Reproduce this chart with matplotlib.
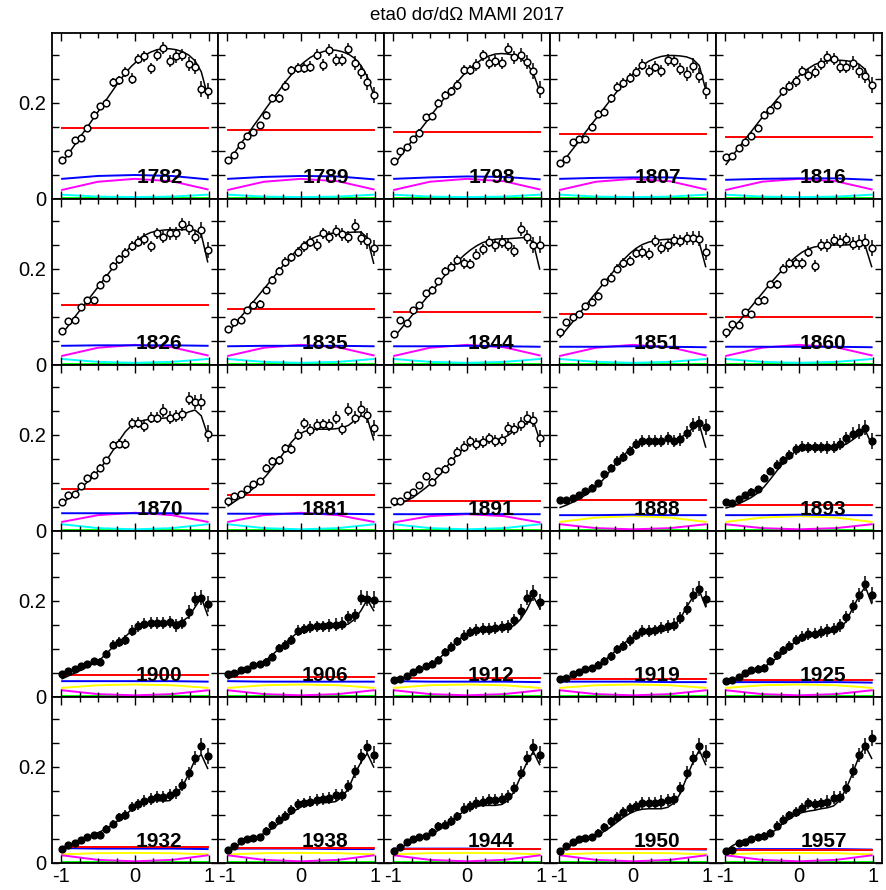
import matplotlib
matplotlib.use("Agg")
import matplotlib.pyplot as plt
from matplotlib.ticker import MultipleLocator

plt.rcParams["font.family"] = ["Liberation Sans", "DejaVu Sans"]
plt.rcParams["axes.unicode_minus"] = False

# cos(theta) bin centres
cos_theta = [-0.985, -0.900, -0.814, -0.729, -0.643, -0.558, -0.472, -0.387,
             -0.301, -0.216, -0.130, -0.045, 0.041, 0.127, 0.212, 0.298,
             0.383, 0.469, 0.554, 0.640, 0.725, 0.811, 0.896, 0.982]
# x points for the partial-wave contributions
comp_x = [-0.985, -0.5, 0.0, 0.5, 0.982]
err = [0.005, 0.005, 0.006, 0.006, 0.007, 0.007, 0.008, 0.008, 0.009, 0.010, 0.010, 0.011,
       0.011, 0.012, 0.012, 0.012, 0.013, 0.013, 0.013, 0.013, 0.014, 0.015, 0.016, 0.017]

energies = [1782, 1789, 1798, 1807, 1816,
            1826, 1835, 1844, 1851, 1860,
            1870, 1881, 1891, 1888, 1893,
            1900, 1906, 1912, 1919, 1925,
            1932, 1938, 1944, 1950, 1957]
n_open = 13  # first panels drawn with open circles

# data (d) and fit (c)
d1782 = [0.081, 0.095, 0.122, 0.128, 0.147, 0.176, 0.193, 0.200, 0.243, 0.247, 0.264, 0.251, 0.292, 0.297, 0.272, 0.299, 0.315, 0.288, 0.297, 0.300, 0.281, 0.276, 0.229, 0.225]
c1782 = [0.076, 0.094, 0.113, 0.132, 0.150, 0.169, 0.188, 0.207, 0.226, 0.245, 0.262, 0.277, 0.289, 0.299, 0.306, 0.311, 0.313, 0.313, 0.311, 0.307, 0.300, 0.288, 0.265, 0.215]
d1789 = [0.082, 0.092, 0.112, 0.131, 0.139, 0.154, 0.176, 0.211, 0.210, 0.236, 0.268, 0.273, 0.273, 0.276, 0.301, 0.279, 0.310, 0.290, 0.290, 0.312, 0.283, 0.264, 0.244, 0.217]
c1789 = [0.078, 0.096, 0.115, 0.133, 0.152, 0.170, 0.189, 0.207, 0.225, 0.243, 0.259, 0.273, 0.285, 0.295, 0.302, 0.307, 0.310, 0.310, 0.307, 0.302, 0.293, 0.278, 0.255, 0.218]
d1798 = [0.080, 0.099, 0.108, 0.124, 0.138, 0.170, 0.172, 0.200, 0.217, 0.224, 0.238, 0.269, 0.269, 0.279, 0.299, 0.283, 0.287, 0.283, 0.312, 0.295, 0.300, 0.286, 0.267, 0.228]
c1798 = [0.072, 0.089, 0.107, 0.124, 0.142, 0.159, 0.177, 0.194, 0.211, 0.228, 0.244, 0.259, 0.272, 0.283, 0.292, 0.298, 0.302, 0.303, 0.302, 0.299, 0.293, 0.282, 0.262, 0.225]
d1807 = [0.075, 0.083, 0.119, 0.125, 0.124, 0.151, 0.177, 0.181, 0.210, 0.233, 0.242, 0.252, 0.265, 0.280, 0.267, 0.276, 0.267, 0.290, 0.288, 0.271, 0.260, 0.278, 0.257, 0.226]
c1807 = [0.070, 0.087, 0.104, 0.121, 0.139, 0.156, 0.173, 0.190, 0.207, 0.224, 0.240, 0.254, 0.267, 0.278, 0.287, 0.293, 0.297, 0.299, 0.299, 0.298, 0.296, 0.291, 0.278, 0.228]
d1816 = [0.087, 0.090, 0.106, 0.118, 0.132, 0.147, 0.175, 0.185, 0.196, 0.224, 0.235, 0.245, 0.267, 0.258, 0.265, 0.281, 0.295, 0.292, 0.276, 0.276, 0.283, 0.267, 0.257, 0.238]
c1816 = [0.072, 0.090, 0.107, 0.124, 0.141, 0.158, 0.175, 0.191, 0.207, 0.222, 0.237, 0.250, 0.262, 0.272, 0.280, 0.285, 0.288, 0.289, 0.289, 0.288, 0.286, 0.281, 0.270, 0.232]

d1826 = [0.071, 0.092, 0.094, 0.121, 0.135, 0.135, 0.167, 0.181, 0.206, 0.220, 0.233, 0.248, 0.257, 0.263, 0.247, 0.274, 0.267, 0.274, 0.274, 0.293, 0.285, 0.267, 0.281, 0.240]
c1826 = [0.065, 0.082, 0.100, 0.117, 0.134, 0.151, 0.168, 0.185, 0.202, 0.219, 0.235, 0.249, 0.261, 0.270, 0.276, 0.279, 0.281, 0.282, 0.282, 0.282, 0.282, 0.281, 0.272, 0.215]
d1835 = [0.076, 0.090, 0.094, 0.115, 0.126, 0.128, 0.156, 0.178, 0.196, 0.215, 0.224, 0.235, 0.247, 0.257, 0.250, 0.274, 0.267, 0.279, 0.272, 0.267, 0.290, 0.265, 0.258, 0.244]
c1835 = [0.068, 0.084, 0.100, 0.116, 0.132, 0.148, 0.164, 0.180, 0.196, 0.212, 0.227, 0.241, 0.253, 0.262, 0.268, 0.272, 0.274, 0.275, 0.275, 0.276, 0.277, 0.277, 0.265, 0.212]
d1844 = [0.064, 0.094, 0.087, 0.115, 0.125, 0.149, 0.156, 0.174, 0.196, 0.205, 0.219, 0.212, 0.210, 0.230, 0.241, 0.257, 0.249, 0.257, 0.251, 0.238, 0.283, 0.267, 0.250, 0.251]
c1844 = [0.058, 0.074, 0.090, 0.106, 0.122, 0.138, 0.154, 0.170, 0.186, 0.201, 0.215, 0.228, 0.239, 0.248, 0.255, 0.259, 0.262, 0.263, 0.263, 0.264, 0.265, 0.266, 0.255, 0.200]
d1851 = [0.069, 0.089, 0.099, 0.106, 0.122, 0.132, 0.144, 0.172, 0.182, 0.201, 0.213, 0.217, 0.233, 0.235, 0.231, 0.258, 0.244, 0.249, 0.260, 0.258, 0.264, 0.265, 0.263, 0.236]
c1851 = [0.058, 0.074, 0.090, 0.107, 0.123, 0.140, 0.156, 0.172, 0.188, 0.204, 0.219, 0.232, 0.243, 0.251, 0.256, 0.259, 0.261, 0.262, 0.262, 0.263, 0.265, 0.266, 0.255, 0.205]
d1860 = [0.069, 0.085, 0.083, 0.110, 0.106, 0.133, 0.135, 0.168, 0.168, 0.201, 0.212, 0.212, 0.212, 0.236, 0.206, 0.250, 0.249, 0.260, 0.257, 0.263, 0.253, 0.255, 0.257, 0.244]
c1860 = [0.058, 0.074, 0.090, 0.106, 0.122, 0.138, 0.154, 0.170, 0.185, 0.200, 0.213, 0.225, 0.235, 0.242, 0.246, 0.248, 0.249, 0.250, 0.250, 0.250, 0.251, 0.252, 0.248, 0.205]

d1870 = [0.061, 0.075, 0.078, 0.094, 0.110, 0.117, 0.132, 0.147, 0.179, 0.182, 0.181, 0.224, 0.226, 0.219, 0.236, 0.236, 0.251, 0.236, 0.240, 0.243, 0.276, 0.269, 0.269, 0.203]
c1870 = [0.057, 0.068, 0.079, 0.090, 0.102, 0.115, 0.130, 0.147, 0.167, 0.188, 0.207, 0.220, 0.227, 0.231, 0.233, 0.234, 0.235, 0.236, 0.238, 0.242, 0.248, 0.252, 0.240, 0.200]
d1881 = [0.063, 0.073, 0.078, 0.087, 0.097, 0.104, 0.131, 0.146, 0.147, 0.172, 0.171, 0.201, 0.224, 0.210, 0.221, 0.222, 0.221, 0.236, 0.213, 0.253, 0.236, 0.255, 0.241, 0.215]
c1881 = [0.052, 0.061, 0.070, 0.079, 0.089, 0.101, 0.115, 0.131, 0.148, 0.167, 0.185, 0.199, 0.207, 0.211, 0.212, 0.212, 0.212, 0.213, 0.215, 0.220, 0.230, 0.240, 0.235, 0.190]
d1891 = [0.063, 0.063, 0.074, 0.082, 0.096, 0.115, 0.103, 0.124, 0.129, 0.145, 0.165, 0.176, 0.187, 0.181, 0.185, 0.193, 0.188, 0.190, 0.214, 0.213, 0.223, 0.235, 0.232, 0.193]
c1891 = [0.053, 0.058, 0.063, 0.070, 0.080, 0.090, 0.101, 0.114, 0.129, 0.145, 0.160, 0.172, 0.181, 0.186, 0.188, 0.190, 0.191, 0.192, 0.199, 0.209, 0.217, 0.225, 0.230, 0.190]
d1888 = [0.064, 0.064, 0.069, 0.076, 0.083, 0.090, 0.099, 0.118, 0.131, 0.146, 0.154, 0.167, 0.181, 0.188, 0.188, 0.188, 0.188, 0.193, 0.188, 0.191, 0.205, 0.221, 0.224, 0.217]
c1888 = [0.049, 0.054, 0.060, 0.067, 0.075, 0.084, 0.095, 0.110, 0.127, 0.143, 0.157, 0.170, 0.180, 0.186, 0.188, 0.189, 0.189, 0.189, 0.190, 0.194, 0.203, 0.214, 0.222, 0.175]
d1893 = [0.060, 0.059, 0.066, 0.075, 0.082, 0.087, 0.110, 0.125, 0.138, 0.147, 0.158, 0.170, 0.176, 0.174, 0.174, 0.174, 0.174, 0.175, 0.181, 0.194, 0.203, 0.207, 0.215, 0.188]
c1893 = [0.048, 0.052, 0.057, 0.063, 0.070, 0.079, 0.092, 0.108, 0.125, 0.141, 0.155, 0.166, 0.172, 0.175, 0.176, 0.176, 0.176, 0.176, 0.177, 0.181, 0.190, 0.200, 0.210, 0.180]

d1900 = [0.047, 0.054, 0.059, 0.065, 0.069, 0.074, 0.073, 0.090, 0.109, 0.115, 0.119, 0.138, 0.147, 0.153, 0.154, 0.154, 0.154, 0.156, 0.149, 0.154, 0.177, 0.204, 0.207, 0.194]
c1900 = [0.038, 0.044, 0.050, 0.056, 0.063, 0.070, 0.078, 0.090, 0.104, 0.115, 0.126, 0.138, 0.146, 0.151, 0.153, 0.154, 0.154, 0.154, 0.155, 0.158, 0.167, 0.187, 0.207, 0.170]
d1906 = [0.047, 0.049, 0.056, 0.059, 0.066, 0.068, 0.073, 0.083, 0.102, 0.108, 0.119, 0.138, 0.142, 0.146, 0.147, 0.147, 0.149, 0.151, 0.153, 0.167, 0.170, 0.207, 0.205, 0.203]
c1906 = [0.038, 0.044, 0.050, 0.056, 0.062, 0.069, 0.077, 0.088, 0.100, 0.112, 0.124, 0.134, 0.141, 0.145, 0.147, 0.148, 0.148, 0.148, 0.149, 0.152, 0.162, 0.180, 0.203, 0.180]
d1912 = [0.035, 0.038, 0.044, 0.052, 0.059, 0.064, 0.069, 0.078, 0.094, 0.104, 0.116, 0.128, 0.135, 0.140, 0.142, 0.142, 0.144, 0.146, 0.147, 0.160, 0.179, 0.207, 0.217, 0.198]
c1912 = [0.033, 0.037, 0.042, 0.048, 0.055, 0.062, 0.070, 0.079, 0.091, 0.104, 0.117, 0.127, 0.135, 0.139, 0.141, 0.142, 0.142, 0.142, 0.144, 0.149, 0.162, 0.183, 0.210, 0.185]
d1919 = [0.038, 0.040, 0.047, 0.052, 0.058, 0.060, 0.066, 0.076, 0.085, 0.099, 0.106, 0.118, 0.129, 0.137, 0.137, 0.139, 0.144, 0.147, 0.151, 0.165, 0.184, 0.213, 0.226, 0.204]
c1919 = [0.035, 0.039, 0.044, 0.049, 0.055, 0.061, 0.067, 0.076, 0.087, 0.099, 0.111, 0.120, 0.127, 0.131, 0.134, 0.136, 0.137, 0.140, 0.149, 0.163, 0.188, 0.208, 0.222, 0.188]
d1925 = [0.033, 0.036, 0.042, 0.049, 0.056, 0.059, 0.061, 0.075, 0.087, 0.097, 0.106, 0.119, 0.126, 0.131, 0.132, 0.135, 0.139, 0.142, 0.149, 0.167, 0.189, 0.212, 0.236, 0.212]
c1925 = [0.030, 0.034, 0.039, 0.044, 0.050, 0.056, 0.063, 0.071, 0.081, 0.093, 0.105, 0.115, 0.122, 0.127, 0.130, 0.132, 0.134, 0.136, 0.142, 0.158, 0.185, 0.210, 0.230, 0.195]

d1932 = [0.029, 0.038, 0.042, 0.048, 0.054, 0.058, 0.058, 0.071, 0.081, 0.095, 0.100, 0.117, 0.122, 0.129, 0.133, 0.138, 0.138, 0.142, 0.147, 0.163, 0.187, 0.219, 0.244, 0.223]
c1932 = [0.031, 0.037, 0.043, 0.048, 0.053, 0.059, 0.065, 0.072, 0.080, 0.090, 0.101, 0.111, 0.121, 0.127, 0.130, 0.130, 0.129, 0.130, 0.143, 0.159, 0.185, 0.215, 0.226, 0.197]
d1938 = [0.028, 0.036, 0.045, 0.050, 0.052, 0.054, 0.066, 0.080, 0.090, 0.098, 0.111, 0.122, 0.125, 0.128, 0.131, 0.133, 0.135, 0.142, 0.142, 0.160, 0.191, 0.222, 0.241, 0.226]
c1938 = [0.028, 0.034, 0.040, 0.046, 0.051, 0.057, 0.064, 0.072, 0.082, 0.093, 0.104, 0.113, 0.120, 0.124, 0.126, 0.126, 0.126, 0.128, 0.137, 0.155, 0.185, 0.210, 0.228, 0.200]
d1944 = [0.024, 0.033, 0.043, 0.050, 0.054, 0.056, 0.064, 0.078, 0.080, 0.087, 0.097, 0.113, 0.118, 0.125, 0.128, 0.131, 0.131, 0.133, 0.139, 0.156, 0.188, 0.219, 0.242, 0.226]
c1944 = [0.026, 0.032, 0.038, 0.044, 0.050, 0.055, 0.061, 0.068, 0.077, 0.087, 0.098, 0.107, 0.114, 0.118, 0.120, 0.120, 0.120, 0.122, 0.130, 0.150, 0.180, 0.210, 0.232, 0.205]
d1950 = [0.024, 0.036, 0.043, 0.049, 0.052, 0.054, 0.063, 0.076, 0.087, 0.096, 0.106, 0.115, 0.119, 0.125, 0.126, 0.126, 0.128, 0.131, 0.133, 0.156, 0.188, 0.219, 0.244, 0.228]
c1950 = [0.025, 0.032, 0.038, 0.043, 0.048, 0.053, 0.059, 0.066, 0.075, 0.085, 0.095, 0.103, 0.109, 0.112, 0.113, 0.113, 0.113, 0.116, 0.125, 0.145, 0.178, 0.210, 0.235, 0.205]
d1957 = [0.026, 0.027, 0.041, 0.044, 0.050, 0.054, 0.056, 0.062, 0.078, 0.090, 0.099, 0.106, 0.115, 0.124, 0.122, 0.124, 0.128, 0.136, 0.138, 0.157, 0.192, 0.225, 0.244, 0.260]
c1957 = [0.026, 0.036, 0.043, 0.048, 0.052, 0.055, 0.058, 0.062, 0.070, 0.083, 0.092, 0.100, 0.105, 0.108, 0.110, 0.113, 0.115, 0.119, 0.131, 0.156, 0.187, 0.222, 0.244, 0.218]

data = [d1782, d1789, d1798, d1807, d1816, d1826, d1835, d1844, d1851, d1860,
        d1870, d1881, d1891, d1888, d1893, d1900, d1906, d1912, d1919, d1925,
        d1932, d1938, d1944, d1950, d1957]
fits = [c1782, c1789, c1798, c1807, c1816, c1826, c1835, c1844, c1851, c1860,
        c1870, c1881, c1891, c1888, c1893, c1900, c1906, c1912, c1919, c1925,
        c1932, c1938, c1944, c1950, c1957]

# contributions
red_level = [0.148, 0.144, 0.140, 0.135, 0.129,
             0.124, 0.117, 0.111, 0.106, 0.099,
             0.088, 0.076, 0.063, 0.064, 0.054,
             0.045, 0.042, 0.040, 0.038, 0.036,
             0.033, 0.031, 0.030, 0.029, 0.028]
blue = [[0.042, 0.048, 0.050, 0.048, 0.041], [0.042, 0.046, 0.048, 0.047, 0.041],
        [0.042, 0.045, 0.047, 0.046, 0.041], [0.042, 0.044, 0.045, 0.045, 0.041],
        [0.040, 0.042, 0.043, 0.043, 0.040],
        [0.040, 0.041, 0.041, 0.041, 0.040], [0.039, 0.040, 0.040, 0.040, 0.039],
        [0.039, 0.039, 0.040, 0.039, 0.038], [0.038, 0.038, 0.039, 0.038, 0.037],
        [0.038, 0.038, 0.038, 0.038, 0.037],
        [0.037, 0.037, 0.037, 0.037, 0.036], [0.036, 0.036, 0.036, 0.036, 0.035],
        [0.035, 0.035, 0.036, 0.035, 0.035], [0.033, 0.033, 0.034, 0.033, 0.033],
        [0.033, 0.033, 0.034, 0.033, 0.033],
        [0.033, 0.033, 0.033, 0.033, 0.032], [0.033, 0.032, 0.032, 0.032, 0.032],
        [0.033, 0.032, 0.032, 0.032, 0.031], [0.032, 0.032, 0.032, 0.031, 0.031],
        [0.031, 0.031, 0.031, 0.031, 0.030],
        [0.031, 0.030, 0.030, 0.030, 0.029], [0.030, 0.030, 0.030, 0.029, 0.029],
        [0.030, 0.030, 0.030, 0.029, 0.029], [0.029, 0.029, 0.029, 0.029, 0.028],
        [0.029, 0.029, 0.029, 0.029, 0.028]]
mag_up = [0.019, 0.036, 0.042, 0.037, 0.020]
mag_up3 = [0.019, 0.033, 0.038, 0.033, 0.019]
mag_dn = [0.014, 0.006, 0.0035, 0.006, 0.014]
mag_dn5 = [0.016, 0.0065, 0.0035, 0.0065, 0.016]
magenta = [mag_up] * 10 + [mag_up3, mag_up3, [0.018, 0.031, 0.035, 0.031, 0.018],
                           mag_dn, mag_dn] + [mag_dn] * 5 + [mag_dn5] * 5
cyan_r1 = [0.009, 0.005, 0.004, 0.005, 0.009]
cyan_r2 = [0.0125, 0.0065, 0.0045, 0.0065, 0.0125]
cyan_r3 = [0.014, 0.006, 0.0035, 0.006, 0.014]
cyan = [cyan_r1] * 5 + [cyan_r2] * 5 + [cyan_r3] * 3 + [None] * 12
yel_r3 = [0.019, 0.028, 0.031, 0.028, 0.019]
yel_r4 = [0.019, 0.0245, 0.026, 0.0245, 0.019]
yel_r5 = [0.018, 0.0205, 0.021, 0.0205, 0.018]
yellow = [None] * 13 + [yel_r3, yel_r3] + [yel_r4] * 5 + [yel_r5] * 5
green = [0.0015, 0.0015, 0.0015, 0.0015, 0.0015]

W, H = 886, 890
fig, axes = plt.subplots(5, 5, figsize=(W / 100, H / 100), dpi=100, sharex=True, sharey=True)
fig.subplots_adjust(left=52 / W, right=882 / W, bottom=1 - 863 / H, top=1 - 33 / H,
                    wspace=0, hspace=0)

for k, ax in enumerate(axes.flat):
    row, col = divmod(k, 5)
    lw = 1.4
    ax.plot(comp_x, green, color="#00ff00", lw=lw, zorder=1)
    if cyan[k] is not None:
        ax.plot(comp_x, cyan[k], color="#00ffff", lw=lw, zorder=1.1)
    if yellow[k] is not None:
        ax.plot(comp_x, yellow[k], color="#ffff00", lw=lw, zorder=1.2)
    ax.plot(comp_x, magenta[k], color="#ff00ff", lw=lw, zorder=1.3)
    ax.plot(comp_x, blue[k], color="#0000ff", lw=lw, zorder=1.4)
    ax.plot([comp_x[0], comp_x[-1]], [red_level[k], red_level[k]], color="#ff0000", lw=lw, zorder=1.5)

    ax.text(0.33, 0.033, str(energies[k]), ha="center", va="baseline",
            fontsize=15, fontweight="bold", zorder=2)

    ax.plot(cos_theta, fits[k], color="black", lw=1.1, zorder=3)
    face = "white" if k < n_open else "black"
    ax.errorbar(cos_theta, data[k], yerr=err, fmt="o", ms=4.8, mfc=face, mec="black",
                mew=1.1, ecolor="black", elinewidth=1.1, capsize=0, zorder=4)

    ax.set_xlim(-1.122, 1.122)
    ax.set_ylim(0, 0.3458)
    ax.set_xticks([-1, 0, 1])
    ax.xaxis.set_minor_locator(MultipleLocator(0.25))
    ax.set_yticks([0, 0.05, 0.1, 0.15, 0.2, 0.25, 0.3])
    ax.set_yticklabels(["0", "", "", "", "0.2", "", ""])
    ax.set_xticklabels(["-1", "0", "1"])
    ax.tick_params(which="both", direction="in", top=True, right=True,
                   labelsize=14.5, width=1.0, color="black")
    ax.tick_params(which="major", length=6)
    ax.tick_params(which="minor", length=3.5)
    ax.tick_params(axis="y", length=5, pad=4)
    ax.tick_params(axis="x", pad=3)
    if col != 0:
        ax.tick_params(labelleft=False)
    if row != 4:
        ax.tick_params(labelbottom=False)
    for s in ax.spines.values():
        s.set_linewidth(1.3)

fig.text(467 / W, 1 - 15 / H, "eta0 d\u03c3/d\u03a9 MAMI 2017", ha="center", va="center", fontsize=13.5)

fig.savefig("out.png", dpi=100)
